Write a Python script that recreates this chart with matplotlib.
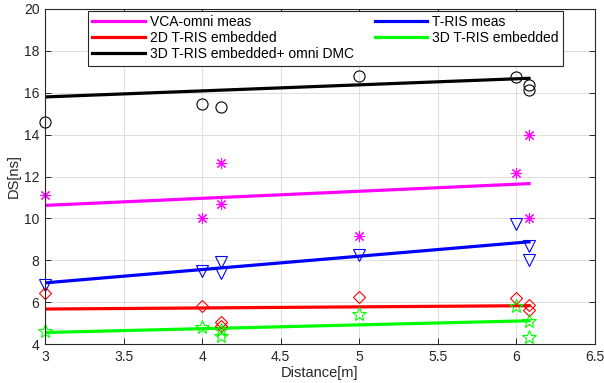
import numpy as np
import matplotlib.pyplot as plt

plt.rcParams['font.family'] = ['Liberation Sans', 'DejaVu Sans']

vca_x = [3, 4, 4.12, 4.12, 5, 6, 6.08, 6.08]
vca_y = [11.1, 10.0, 12.65, 10.7, 9.15, 12.15, 14.0, 10.0]
tris_x = [3, 4, 4.12, 4.12, 5, 6, 6.08, 6.08]
tris_y = [6.8, 7.5, 7.9, 7.4, 8.25, 9.75, 8.7, 8.0]
emb2d_x = [3, 4, 4.12, 4.12, 5, 6, 6.08, 6.08]
emb2d_y = [6.45, 5.8, 5.06, 4.85, 6.25, 6.22, 5.88, 5.62]
emb3d_x = [3, 4, 4.12, 4.12, 5, 6, 6.08, 6.08]
emb3d_y = [4.63, 4.8, 4.67, 4.38, 5.43, 5.82, 5.1, 4.35]
dmc_x = [3, 4, 4.12, 5, 6, 6.08, 6.08]
dmc_y = [14.58, 15.46, 15.34, 16.8, 16.74, 16.38, 16.14]

# fitted lines (end points)
fit_x = [3, 6.08]
vca_fit = [10.62, 11.66]
tris_fit = [6.92, 8.88]
emb2d_fit = [5.67, 5.83]
emb3d_fit = [4.55, 5.11]
dmc_fit = [15.8, 16.69]

labels = ['VCA-omni meas', 'T-RIS meas', '2D T-RIS embedded',
          '3D T-RIS embedded', '3D T-RIS embedded+ omni DMC']

fig = plt.figure(figsize=(6.04, 3.83), dpi=100)
ax = fig.add_axes([45/604, 1-344/383, 550/604, 335/383])

lw = 2.3
mew = 0.8
h1, = ax.plot(fit_x, vca_fit, color='#ff00ff', lw=lw)
h2, = ax.plot(fit_x, tris_fit, color='#0000ff', lw=lw)
h3, = ax.plot(fit_x, emb2d_fit, color='#ff0000', lw=lw)
h4, = ax.plot(fit_x, emb3d_fit, color='#00ff00', lw=lw)
h5, = ax.plot(fit_x, dmc_fit, color='black', lw=lw)

ax.plot(vca_x, vca_y, ls='none', marker=(8, 2, 0), ms=8, mec='#ff00ff', mew=mew, clip_on=False)
ax.plot(tris_x, tris_y, ls='none', marker='v', ms=9, mfc='none', mec='#0000ff', mew=mew, clip_on=False)
ax.plot(emb2d_x, emb2d_y, ls='none', marker='D', ms=6, mfc='none', mec='#ff0000', mew=mew, clip_on=False)
ax.plot(emb3d_x, emb3d_y, ls='none', marker='*', ms=10, mfc='none', mec='#00ff00', mew=mew, clip_on=False)
ax.plot(dmc_x, dmc_y, ls='none', marker='o', ms=8, mfc='none', mec='black', mew=mew, clip_on=False)

ax.set_xlim(3, 6.5)
ax.set_ylim(4, 20)
ax.set_xticks(np.arange(3, 6.51, 0.5))
ax.set_xticklabels(['3', '3.5', '4', '4.5', '5', '5.5', '6', '6.5'])
ax.set_yticks(np.arange(4, 20.1, 2))
ax.grid(True, color='#dfdfdf', lw=0.7)
ax.set_axisbelow(True)
ax.tick_params(direction='in', top=True, right=True, length=4, width=0.7,
               labelsize=10, colors='#262626', pad=4)
for s in ax.spines.values():
    s.set_color('#262626')
    s.set_linewidth(0.8)
ax.set_xlabel('Distance[m]', fontsize=10.5, color='#262626', labelpad=2)
ax.set_ylabel('DS[ns]', fontsize=10.5, color='#262626', labelpad=2)

leg = ax.legend([h1, h3, h5, h2, h4],
                [labels[0], labels[2], labels[4], labels[1], labels[3]],
                ncol=2, mode='expand', loc='upper left',
                bbox_to_anchor=(43/550, 0, 475/550, 333/335),
                fontsize=10, handlelength=3.8, handletextpad=0.35,
                labelspacing=0.15, borderpad=0.3, borderaxespad=0,
                fancybox=False, framealpha=1, edgecolor='#262626')
leg.get_frame().set_linewidth(0.8)
leg.set_zorder(5)

fig.savefig('out.png', dpi=100)
